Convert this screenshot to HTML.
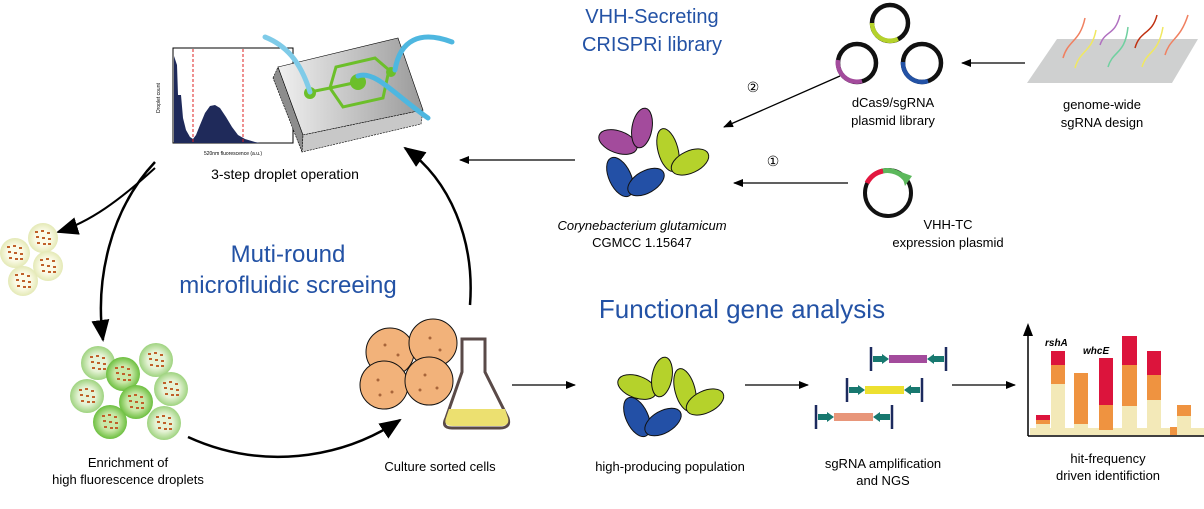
<!DOCTYPE html>
<html><head><meta charset="utf-8"><style>
html,body{margin:0;padding:0;background:#fff;}
svg{display:block;}
text{font-family:"Liberation Sans",Arial,sans-serif;}
</style></head><body>
<svg width="1204" height="509" viewBox="0 0 1204 509" xmlns="http://www.w3.org/2000/svg">
<defs>
<marker id="ah" markerWidth="10" markerHeight="8" refX="9" refY="4" orient="auto" markerUnits="userSpaceOnUse"><path d="M0,0 L10,4 L0,8 Z" fill="#000"/></marker>
<marker id="ahb" markerWidth="22" markerHeight="18" refX="20" refY="9" orient="auto" markerUnits="userSpaceOnUse"><path d="M0,0 L22,9 L0,18 Z" fill="#000"/></marker>
<linearGradient id="chip" x1="0" x2="1"><stop offset="0" stop-color="#f0f0f0"/><stop offset="1" stop-color="#9a9a9a"/></linearGradient>
<radialGradient id="gd"><stop offset="0.5" stop-color="#e6f3d6"/><stop offset="1" stop-color="#9ed37f"/></radialGradient>
<radialGradient id="gd2"><stop offset="0.5" stop-color="#c9e8a8"/><stop offset="1" stop-color="#6cbf3f"/></radialGradient>
<radialGradient id="yd"><stop offset="0.5" stop-color="#fbfbe8"/><stop offset="1" stop-color="#e4e9b6"/></radialGradient>
<g id="specks" fill="#c0612a"><rect x="-8" y="-7" width="3" height="2"/><rect x="-2" y="-8" width="3" height="2"/><rect x="4" y="-6" width="3" height="2"/><rect x="-7" y="-2" width="3" height="2"/><rect x="-1" y="-1" width="3" height="2"/><rect x="5" y="0" width="3" height="2"/><rect x="-6" y="4" width="3" height="2"/><rect x="0" y="5" width="3" height="2"/><rect x="5" y="5" width="3" height="2"/></g>
</defs>

<!-- histogram -->
<rect x="173" y="48" width="120" height="95" fill="#fff" stroke="#000" stroke-width="1"/>
<path d="M174,143 L174,56 L177,65 L178,95 L181,95 L183,118 L186,130 L190,137 L193,139 L196,135 L200,125 L205,113 L210,106 L215,105 L220,108 L226,117 L232,127 L238,135 L245,139 L255,142 L260,143 Z" fill="#1f2a5a"/>
<line x1="193" y1="49" x2="193" y2="143" stroke="#d22" stroke-dasharray="3,2"/>
<line x1="243" y1="49" x2="243" y2="143" stroke="#d22" stroke-dasharray="3,2"/>
<text x="160" y="98" font-size="5" transform="rotate(-90 160 98)" text-anchor="middle">Droplet count</text>
<text x="233" y="155" font-size="5" text-anchor="middle">520nm fluorescence (a.u.)</text>

<!-- chip -->
<polygon points="273,78 278,67 303,135 302,152" fill="#8d8d8d" stroke="#000" stroke-width="0.6" stroke-dasharray="2,1"/>
<polygon points="278,67 398,38 423,110 303,135" fill="url(#chip)" stroke="#000" stroke-width="0.6"/>
<polygon points="303,135 423,110 421,124 302,152" fill="#c8c8c8" stroke="#000" stroke-width="0.6" stroke-dasharray="2,1"/>
<g stroke="#6cbf2a" stroke-width="3" fill="none"><line x1="310" y1="92" x2="330" y2="88"/><polyline points="330,88 336,67 375,58 389,70 383,98 343,107 330,88"/><line x1="330" y1="88" x2="358" y2="82"/></g>
<circle cx="310" cy="93" r="6" fill="#6cbf2a"/><circle cx="358" cy="82" r="8" fill="#6cbf2a"/><circle cx="391" cy="72" r="5" fill="#6cbf2a"/>
<path d="M265,37 C285,45 300,60 310,92" stroke="#7fcbe8" stroke-width="5" fill="none" stroke-linecap="round"/>
<path d="M395,70 C400,40 420,30 452,42" stroke="#4eb7e0" stroke-width="5" fill="none" stroke-linecap="round"/>
<path d="M358,76 C375,70 395,95 428,118" stroke="#4eb7e0" stroke-width="5" fill="none" stroke-linecap="round"/>
<text x="285" y="179" font-size="14" text-anchor="middle">3-step droplet operation</text>

<!-- title -->
<text x="652" y="23" font-size="20" fill="#2352a5" text-anchor="middle">VHH-Secreting</text>
<text x="652" y="51" font-size="20" fill="#2352a5" text-anchor="middle">CRISPRi library</text>

<!-- plasmids -->
<g fill="none" stroke-width="4.5">
<circle cx="890" cy="23" r="18" stroke="#111"/>
<path d="M872,23 A18,18 0 0 0 898,39" stroke="#b5d22b"/>
<circle cx="857" cy="63" r="19" stroke="#111"/>
<path d="M838,60 A19,19 0 0 0 862,81" stroke="#a34b9c"/>
<circle cx="922" cy="63" r="19" stroke="#111"/>
<path d="M903,62 A19,19 0 0 0 928,81" stroke="#2352a5"/>
</g>
<text x="893" y="107" font-size="13" text-anchor="middle">dCas9/sgRNA</text>
<text x="893" y="125" font-size="13" text-anchor="middle">plasmid library</text>
<line x1="1025" y1="63" x2="962" y2="63" stroke="#000" stroke-width="1.3" marker-end="url(#ah)"/>
<polygon points="1027,83 1057,39 1198,39 1172,83" fill="#cfd0d0"/>
<g fill="none" stroke-width="1.5">
<path d="M1063,58 C1068,40 1080,42 1085,18" stroke="#f08060"/>
<path d="M1075,68 C1080,50 1092,52 1096,30" stroke="#f0e860"/>
<path d="M1100,45 C1105,30 1115,36 1120,15" stroke="#b070c0"/>
<path d="M1108,67 C1113,50 1125,55 1128,27" stroke="#70d0a0"/>
<path d="M1135,48 C1140,30 1152,35 1157,15" stroke="#c03010"/>
<path d="M1142,67 C1147,50 1158,55 1163,27" stroke="#f0e860"/>
<path d="M1165,55 C1170,38 1180,40 1188,15" stroke="#f08060"/>
</g>
<text x="1102" y="109" font-size="13" text-anchor="middle">genome-wide</text>
<text x="1102" y="127" font-size="13" text-anchor="middle">sgRNA design</text>

<!-- VHH-TC plasmid -->
<circle cx="888" cy="193" r="23" fill="none" stroke="#111" stroke-width="4"/>
<path d="M867,183 A23,23 0 0 1 883,171" fill="none" stroke="#e3173f" stroke-width="5"/>
<path d="M883,171 A23,23 0 0 1 906,180" fill="none" stroke="#5cb85c" stroke-width="5"/>
<polygon points="901,172 912,176 905,186" fill="#5cb85c"/>
<text x="948" y="229" font-size="13" text-anchor="middle">VHH-TC</text>
<text x="948" y="247" font-size="13" text-anchor="middle">expression plasmid</text>

<line x1="848" y1="183" x2="734" y2="183" stroke="#000" stroke-width="1.3" marker-end="url(#ah)"/>
<text x="773" y="166" font-size="14" text-anchor="middle">①</text>
<line x1="840" y1="76" x2="724" y2="127" stroke="#000" stroke-width="1.3" marker-end="url(#ah)"/>
<text x="753" y="92" font-size="14" text-anchor="middle">②</text>

<!-- bacteria top -->
<g stroke="#111" stroke-width="1">
<ellipse cx="618" cy="142" rx="20" ry="11" transform="rotate(20 618 142)" fill="#a34b9c"/>
<ellipse cx="642" cy="128" rx="20" ry="10" transform="rotate(-80 642 128)" fill="#a34b9c"/>
<ellipse cx="668" cy="150" rx="22" ry="10" transform="rotate(-105 668 150)" fill="#b5d22b"/>
<ellipse cx="690" cy="162" rx="20" ry="11" transform="rotate(-25 690 162)" fill="#b5d22b"/>
<ellipse cx="620" cy="177" rx="21" ry="11" transform="rotate(65 620 177)" fill="#2350a6"/>
<ellipse cx="646" cy="182" rx="20" ry="11" transform="rotate(-30 646 182)" fill="#2350a6"/>
</g>
<text x="642" y="230" font-size="13" font-style="italic" text-anchor="middle">Corynebacterium glutamicum</text>
<text x="642" y="247" font-size="13" text-anchor="middle">CGMCC 1.15647</text>
<line x1="575" y1="160" x2="460" y2="160" stroke="#000" stroke-width="1.3" marker-end="url(#ah)"/>

<!-- cycle arrows -->
<g fill="none" stroke="#000" stroke-width="2.5">
<path d="M155,162 C110,210 95,280 103,340" marker-end="url(#ahb)"/>
<path d="M188,437 C260,470 340,460 400,420" marker-end="url(#ahb)"/>
<path d="M470,305 C475,240 450,180 405,148" marker-end="url(#ahb)"/>
<path d="M155,168 C120,200 90,222 58,232" marker-end="url(#ahb)" stroke-width="2"/>
</g>

<!-- small droplets -->
<g>
<circle cx="15" cy="253" r="15" fill="url(#yd)"/><use href="#specks" x="15" y="253"/>
<circle cx="43" cy="238" r="15" fill="url(#yd)"/><use href="#specks" x="43" y="238"/>
<circle cx="48" cy="266" r="15" fill="url(#yd)"/><use href="#specks" x="48" y="266"/>
<circle cx="23" cy="281" r="15" fill="url(#yd)"/><use href="#specks" x="23" y="281"/>
</g>
<text x="288" y="262" font-size="24" fill="#2352a5" text-anchor="middle">Muti-round</text>
<text x="288" y="293" font-size="24" fill="#2352a5" text-anchor="middle">microfluidic screeing</text>

<!-- enrichment droplets -->
<g>
<circle cx="98" cy="363" r="17" fill="url(#gd)"/><use href="#specks" x="98" y="363"/>
<circle cx="156" cy="360" r="17" fill="url(#gd)"/><use href="#specks" x="156" y="360"/>
<circle cx="123" cy="374" r="17" fill="url(#gd2)"/><use href="#specks" x="123" y="374"/>
<circle cx="87" cy="396" r="17" fill="url(#gd)"/><use href="#specks" x="87" y="396"/>
<circle cx="171" cy="389" r="17" fill="url(#gd)"/><use href="#specks" x="171" y="389"/>
<circle cx="136" cy="402" r="17" fill="url(#gd2)"/><use href="#specks" x="136" y="402"/>
<circle cx="110" cy="422" r="17" fill="url(#gd2)"/><use href="#specks" x="110" y="422"/>
<circle cx="164" cy="423" r="17" fill="url(#gd)"/><use href="#specks" x="164" y="423"/>
</g>
<text x="128" y="467" font-size="13" text-anchor="middle">Enrichment of</text>
<text x="128" y="484" font-size="13" text-anchor="middle">high fluorescence droplets</text>

<!-- orange cells -->
<g fill="#f2b27a" stroke="#111" stroke-width="1">
<circle cx="390" cy="352" r="24"/><circle cx="433" cy="343" r="24"/>
<circle cx="384" cy="385" r="24"/><circle cx="429" cy="381" r="24"/>
</g>
<g fill="#a8653a"><circle cx="385" cy="345" r="1.5"/><circle cx="398" cy="355" r="1.5"/><circle cx="430" cy="338" r="1.5"/><circle cx="440" cy="350" r="1.5"/><circle cx="378" cy="380" r="1.5"/><circle cx="392" cy="392" r="1.5"/><circle cx="425" cy="375" r="1.5"/><circle cx="437" cy="388" r="1.5"/><circle cx="380" cy="395" r="1.5"/><circle cx="420" cy="390" r="1.5"/></g>
<path d="M462,339 L485,339 L485,372 L508,418 Q511,428 500,428 L452,428 Q441,428 446,418 L462,372 Z" fill="#fff" stroke="#5a4a48" stroke-width="3"/>
<path d="M449,409 L505,409 L508,418 Q510,426 500,426 L453,426 Q443,426 446,418 Z" fill="#ece070"/>
<text x="440" y="471" font-size="13" text-anchor="middle">Culture sorted cells</text>

<text x="742" y="318" font-size="26" fill="#2352a5" text-anchor="middle">Functional gene analysis</text>

<line x1="512" y1="385" x2="575" y2="385" stroke="#000" stroke-width="1.3" marker-end="url(#ah)"/>
<line x1="745" y1="385" x2="808" y2="385" stroke="#000" stroke-width="1.3" marker-end="url(#ah)"/>
<line x1="952" y1="385" x2="1015" y2="385" stroke="#000" stroke-width="1.3" marker-end="url(#ah)"/>

<!-- bacteria bottom -->
<g stroke="#111" stroke-width="1">
<ellipse cx="637" cy="387" rx="20" ry="11" transform="rotate(20 637 387)" fill="#b5d22b"/>
<ellipse cx="662" cy="377" rx="20" ry="10" transform="rotate(-80 662 377)" fill="#b5d22b"/>
<ellipse cx="685" cy="390" rx="22" ry="10" transform="rotate(-105 685 390)" fill="#b5d22b"/>
<ellipse cx="705" cy="402" rx="20" ry="11" transform="rotate(-25 705 402)" fill="#b5d22b"/>
<ellipse cx="637" cy="417" rx="21" ry="11" transform="rotate(65 637 417)" fill="#2350a6"/>
<ellipse cx="663" cy="422" rx="20" ry="11" transform="rotate(-30 663 422)" fill="#2350a6"/>
</g>
<text x="670" y="471" font-size="13" text-anchor="middle">high-producing population</text>

<!-- sgRNA bars -->
<g>
<line x1="871" y1="347" x2="871" y2="371" stroke="#1c2a5e" stroke-width="2.5"/><line x1="946" y1="347" x2="946" y2="371" stroke="#1c2a5e" stroke-width="2.5"/>
<polygon points="873,356 882,356 882,354 889,359 882,364 882,362 873,362" fill="#17786f"/><rect x="889" y="355" width="38" height="8" fill="#a34b9c"/><polygon points="944,356 934,356 934,354 927,359 934,364 934,362 944,362" fill="#17786f"/>
<line x1="847" y1="378" x2="847" y2="402" stroke="#1c2a5e" stroke-width="2.5"/><line x1="922" y1="378" x2="922" y2="402" stroke="#1c2a5e" stroke-width="2.5"/>
<polygon points="849,387 858,387 858,385 865,390 858,395 858,393 849,393" fill="#17786f"/><rect x="865" y="386" width="39" height="8" fill="#ede030"/><polygon points="920,387 911,387 911,385 904,390 911,395 911,393 920,393" fill="#17786f"/>
<line x1="816" y1="405" x2="816" y2="429" stroke="#1c2a5e" stroke-width="2.5"/><line x1="892" y1="405" x2="892" y2="429" stroke="#1c2a5e" stroke-width="2.5"/>
<polygon points="818,414 827,414 827,412 834,417 827,422 827,420 818,420" fill="#17786f"/><rect x="834" y="413" width="39" height="8" fill="#e8967a"/><polygon points="890,414 880,414 880,412 873,417 880,422 880,420 890,420" fill="#17786f"/>
</g>
<text x="883" y="468" font-size="13" text-anchor="middle">sgRNA amplification</text>
<text x="883" y="485" font-size="13" text-anchor="middle">and NGS</text>

<!-- chart -->
<g>
<rect x="1030" y="428" width="174" height="7" fill="#f3e9b8"/>
<rect x="1036" y="415" width="14" height="5" fill="#dc143c"/><rect x="1036" y="420" width="14" height="4" fill="#ef9340"/><rect x="1036" y="424" width="14" height="11" fill="#f3e9b8"/>
<rect x="1051" y="351" width="14" height="14" fill="#dc143c"/><rect x="1051" y="365" width="14" height="19" fill="#ef9340"/><rect x="1051" y="384" width="14" height="51" fill="#f3e9b8"/>
<rect x="1074" y="373" width="14" height="51" fill="#ef9340"/><rect x="1074" y="424" width="14" height="11" fill="#f3e9b8"/>
<rect x="1099" y="358" width="14" height="47" fill="#dc143c"/><rect x="1099" y="405" width="14" height="25" fill="#ef9340"/><rect x="1099" y="430" width="14" height="5" fill="#f3e9b8"/>
<rect x="1122" y="336" width="15" height="29" fill="#dc143c"/><rect x="1122" y="365" width="15" height="41" fill="#ef9340"/><rect x="1122" y="406" width="15" height="29" fill="#f3e9b8"/>
<rect x="1147" y="351" width="14" height="24" fill="#dc143c"/><rect x="1147" y="375" width="14" height="25" fill="#ef9340"/><rect x="1147" y="400" width="14" height="35" fill="#f3e9b8"/>
<rect x="1170" y="427" width="7" height="8" fill="#ef9340"/>
<rect x="1177" y="405" width="14" height="11" fill="#ef9340"/><rect x="1177" y="416" width="14" height="19" fill="#f3e9b8"/>
<line x1="1028" y1="436" x2="1204" y2="436" stroke="#000" stroke-width="1.5"/>
<line x1="1028" y1="436" x2="1028" y2="335" stroke="#000" stroke-width="1.5"/>
<polygon points="1023,336 1028,323 1033,336" fill="#000"/>
<text x="1045" y="346" font-size="10" font-weight="bold" font-style="italic">rshA</text>
<text x="1083" y="354" font-size="10" font-weight="bold" font-style="italic">whcE</text>
</g>
<text x="1108" y="463" font-size="13" text-anchor="middle">hit-frequency</text>
<text x="1108" y="480" font-size="13" text-anchor="middle">driven identifiction</text>
</svg>
</body></html>
